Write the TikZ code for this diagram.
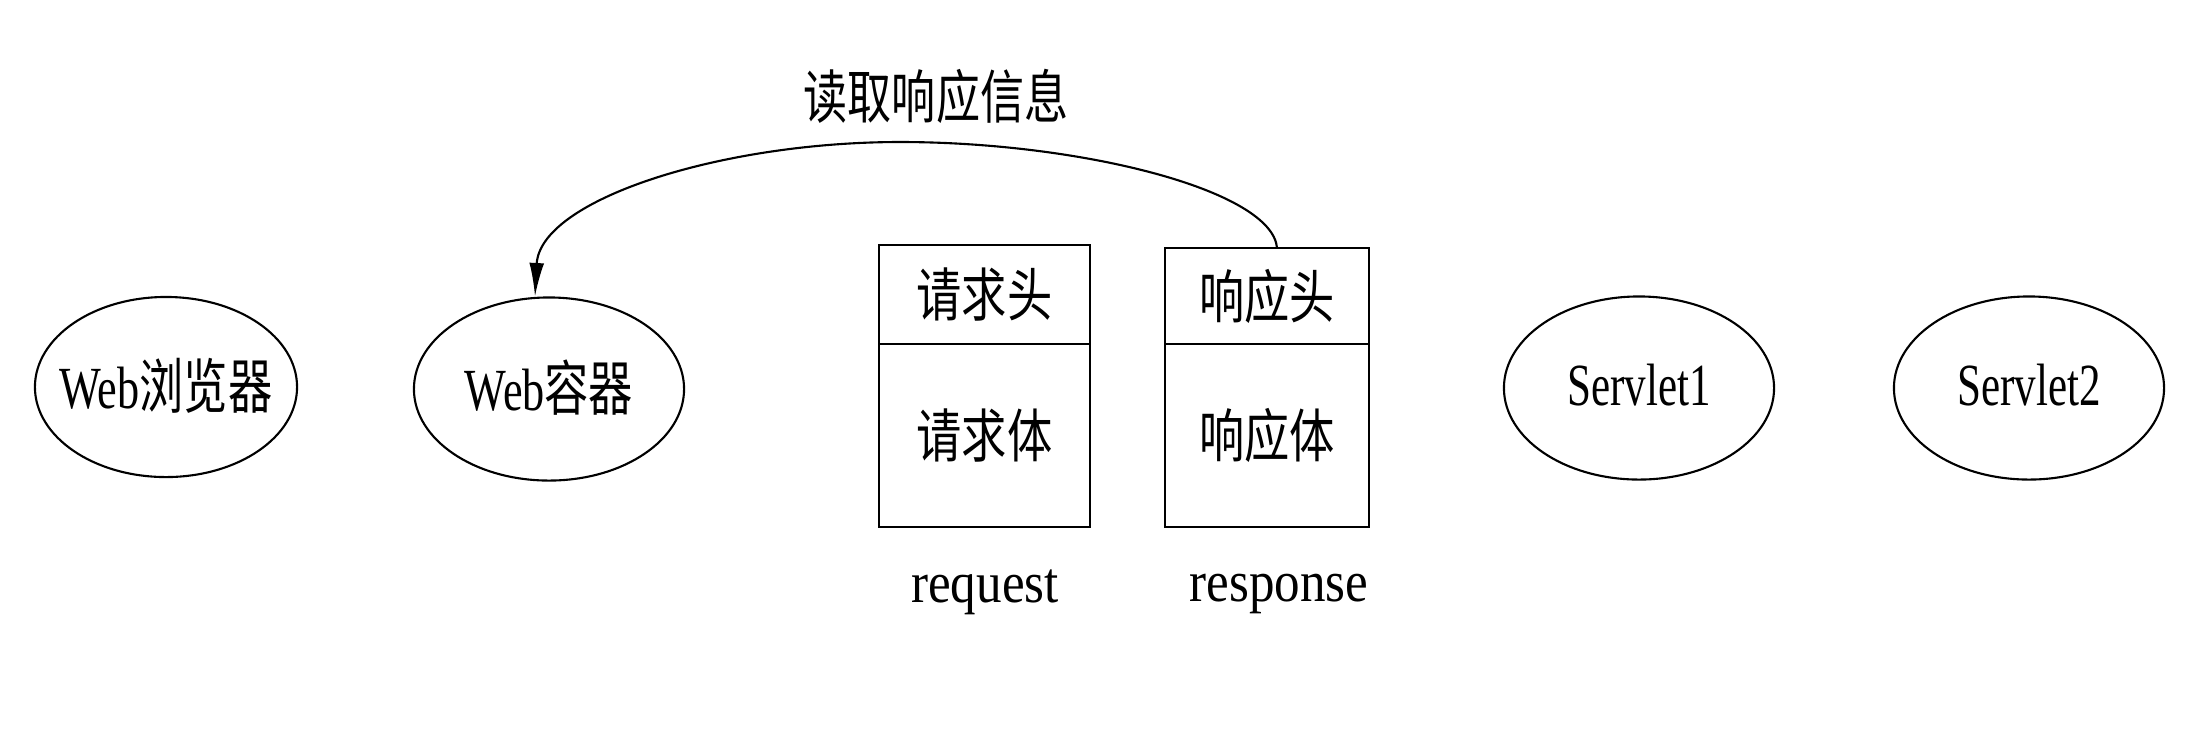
\documentclass[tikz,border=0pt]{standalone}
\usepackage{graphicx}
\usepackage{fontspec}
\setmainfont{Liberation Serif}
\newfontfamily\cjkfont{Noto Sans CJK SC}
\usetikzlibrary{shapes.geometric,arrows.meta}
\newcommand\sqz[2]{\scalebox{#1}[1]{#2}}
\tikzset{
  oval/.style={draw, ellipse, line width=0.6pt, inner sep=0pt,
    minimum width=2.7cm, minimum height=1.83cm,
    font=\fontsize{17}{20}\selectfont},
  part/.style={draw, rectangle, line width=0.6pt, inner sep=0pt, outer sep=0pt,
    font=\fontsize{16.5}{19}\selectfont},
  plain/.style={inner sep=0pt, font=\fontsize{16.5}{19}\selectfont},
  conn/.style={line width=0.6pt, -{Latex[length=9.5pt,width=4.2pt]}}
}
\begin{document}
\begin{tikzpicture}[x=0.01cm, y=-0.01cm]
  \fill[white] (0,0) rectangle (2202,732);
  \useasboundingbox (0,0) rectangle (2202,732);

  % ellipses
  \node[oval, minimum width=2.62cm, minimum height=1.8cm] (browser) at (166,387)
    {\makebox[0pt]{\raisebox{2pt}{\sqz{0.74}{Web{\cjkfont 浏览器}}}}};
  \node[oval] (container) at (549,389)
    {\makebox[0pt]{\raisebox{2pt}{\sqz{0.74}{Web{\cjkfont 容器}}}}};
  \node[oval] (servlet1) at (1639,388)
    {\makebox[0pt]{\raisebox{2pt}{\sqz{0.72}{Servlet1}}}};
  \node[oval] (servlet2) at (2029,388)
    {\makebox[0pt]{\raisebox{2pt}{\sqz{0.72}{Servlet2}}}};

  % request object
  \node[part, minimum width=2.11cm, minimum height=0.99cm, anchor=north west]
    (reqhead) at (879,245) {\sqz{0.78}{\cjkfont 请求头}};
  \node[part, minimum width=2.11cm, minimum height=1.83cm, anchor=north]
    (reqbody) at (reqhead.south) {\sqz{0.78}{\cjkfont 请求体}};

  % response object
  \node[part, minimum width=2.04cm, minimum height=0.96cm, anchor=north west]
    (resphead) at (1165,248) {\sqz{0.78}{\cjkfont 响应头}};
  \node[part, minimum width=2.04cm, minimum height=1.83cm, anchor=north]
    (respbody) at (resphead.south) {\sqz{0.78}{\cjkfont 响应体}};

  % labels
  \node[plain] (reqlab) at (985,592) {\sqz{0.88}{request}};
  \node[plain] (resplab) at (1279,594) {\sqz{0.88}{response}};
  \node[plain] (title) at (936,96) {\sqz{0.76}{\cjkfont 读取响应信息}};

  % connector
  \coordinate (peak) at (900,142);
  \draw[conn] ([xshift=0.1cm]resphead.north)
    .. controls (1272,190) and (1080,142) .. (peak)
    .. controls (720,142) and (540,200) .. ([xshift=-0.14cm]container.north);
\end{tikzpicture}
\end{document}
